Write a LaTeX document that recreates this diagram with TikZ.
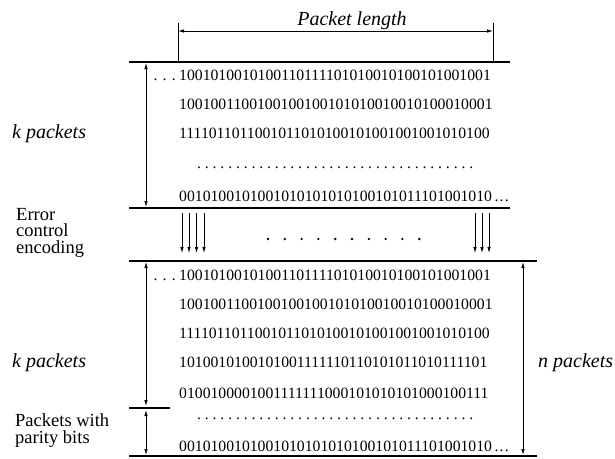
\documentclass[tikz,border=0pt]{standalone}
\usepackage{fontspec}
\setmainfont{Liberation Serif}
\usetikzlibrary{arrows.meta}
\newcommand\dotrowtext{\hbox to 280pt{\xleaders\hbox to 7.7pt{\hss.\hss}\hfill}}
\newcommand\traildots{\kern2.5pt.\kern1.2pt.\kern1.2pt.}
\begin{document}
\begin{tikzpicture}[x=1pt,y=-1pt,
  bits/.style={inner sep=0pt,anchor=base west,font=\fontsize{15.7}{16}\selectfont},
  lbl/.style={inner sep=0pt,anchor=base west,align=left,font=\fontsize{18.5}{16.2}\selectfont},
  ilbl/.style={inner sep=0pt,anchor=base west,font=\fontsize{20}{15}\selectfont\itshape},
  rulel/.style={line width=1.4pt},
  tip/.tip={Latex[length=6pt,width=3.5pt]},
  both/.style={line width=0.8pt,tip-tip},
  down/.style={line width=0.8pt,-tip},
  tick/.style={line width=0.8pt},
  bul/.style={circle,fill,inner sep=0pt,minimum size=2.6pt},
]
\useasboundingbox (0,0) rectangle (615,458);
% top dimension
\node[ilbl,anchor=base] (pl) at (352,25) {Packet length};
\coordinate (t1a) at (178,23); \coordinate (t1b) at (178,62);
\coordinate (t2a) at (493,23); \coordinate (t2b) at (493,62);
\draw[tick] (t1a) -- (t1b);
\draw[tick] (t2a) -- (t2b);
\coordinate (da) at (178,31); \coordinate (db) at (493,31);
\draw[both] (da) -- (db);
% horizontal rules
\coordinate (l1a) at (129,62);  \coordinate (l1b) at (510,62);
\coordinate (l2a) at (129,208); \coordinate (l2b) at (510,208);
\coordinate (l3a) at (129,261); \coordinate (l3b) at (537,261);
\coordinate (l4a) at (129,456); \coordinate (l4b) at (537,456);
\coordinate (l5a) at (129,408); \coordinate (l5b) at (170,408);
\draw[rulel] (l1a) -- (l1b);
\draw[rulel] (l2a) -- (l2b);
\draw[rulel] (l3a) -- (l3b);
\draw[rulel] (l4a) -- (l4b);
\draw[rulel] (l5a) -- (l5b);
% top block
\node[bits,anchor=base east] (r0) at (176,80) {. . .};
\node[bits] (r1) at (179,80) {1001010010100110111101010010100101001001};
\node[bits] (r2) at (179,109) {1001001100100100100101010010010100010001};
\node[bits] (r3) at (179,138) {1111011011001011010100101001001001010100};
\node[bits] (r4) at (195,168) {\dotrowtext};
\node[bits] (r5) at (179,201) {0010100101001010101010100101011101001010\traildots};
\node[ilbl] (kp1) at (12,138) {k packets};
\coordinate (ka) at (146,63); \coordinate (kb) at (146,207);
\draw[both] (ka) -- (kb);
% encoding
\node[lbl] (enc) at (16,253) {Error\\control\\encoding};
\foreach \x [count=\i] in {182,189,196.5,204,475,482,489}{
  \coordinate (ea\i) at (\x,213); \coordinate (eb\i) at (\x,253);
  \draw[down] (ea\i) -- (eb\i);
}
\foreach \i in {0,...,9}{
  \node[bul] (d\i) at (268+16.8*\i,239) {};
}
% lower block
\node[bits,anchor=base east] (s0) at (176,280) {. . .};
\node[bits] (s1) at (179,280) {1001010010100110111101010010100101001001};
\node[bits] (s2) at (179,309) {1001001100100100100101010010010100010001};
\node[bits] (s3) at (179,338) {1111011011001011010100101001001001010100};
\node[bits] (s4) at (179,367) {1010010100101001111110110101011010111101};
\node[bits] (s5) at (179,398) {0100100001001111111000101010101000100111};
\node[bits] (s6) at (195,419) {\dotrowtext};
\node[bits] (s7) at (179,451) {0010100101001010101010100101011101001010\traildots};
\node[ilbl] (kp2) at (12,367) {k packets};
\node[ilbl] (np) at (538,367) {n packets};
\node[lbl] (par) at (15,443) {Packets with\\parity bits};
\coordinate (ma) at (146,262); \coordinate (mb) at (146,406);
\draw[both] (ma) -- (mb);
\coordinate (pa) at (146,410); \coordinate (pb) at (146,455);
\draw[both] (pa) -- (pb);
\coordinate (na) at (523,262); \coordinate (nb) at (523,455);
\draw[both] (na) -- (nb);
\end{tikzpicture}
\end{document}
